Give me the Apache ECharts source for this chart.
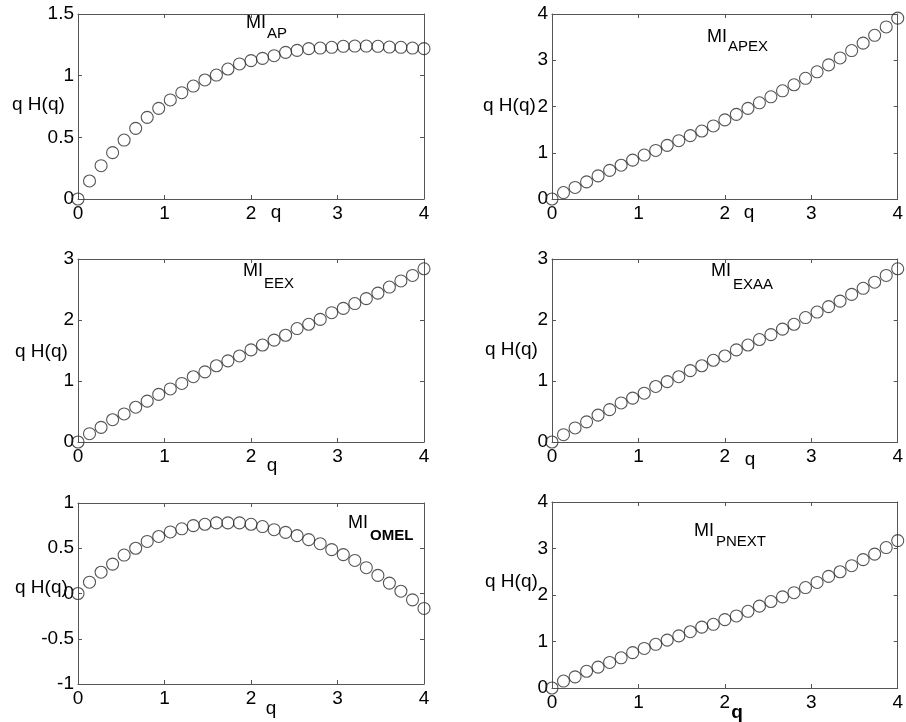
<!DOCTYPE html>
<html>
<head>
<meta charset="utf-8">
<script src="https://cdn.jsdelivr.net/npm/echarts@6/dist/echarts.min.js"></script>
<style>
  html, body { margin: 0; padding: 0; background: #fff; }
  #chart { width: 906px; height: 722px; }
</style>
</head>
<body>
<div id="chart"></div>
<script>
'use strict';

// q values (31 points from 0 to 4)
var qValues = [0, 0.133, 0.267, 0.4, 0.533, 0.667, 0.8, 0.933, 1.067, 1.2, 1.333, 1.467, 1.6, 1.733, 1.867,
    2, 2.133, 2.267, 2.4, 2.533, 2.667, 2.8, 2.933, 3.067, 3.2, 3.333, 3.467, 3.6, 3.733, 3.867, 4];

var miAP = [0, 0.146, 0.27, 0.376, 0.478, 0.573, 0.662, 0.735, 0.803, 0.862, 0.916, 0.965, 1.005, 1.054, 1.095,
    1.122, 1.14, 1.162, 1.189, 1.205, 1.219, 1.224, 1.23, 1.238, 1.24, 1.24, 1.238, 1.232, 1.23, 1.224, 1.219];
var miAPEX = [0, 0.14, 0.25, 0.37, 0.5, 0.62, 0.73, 0.84, 0.95, 1.05, 1.16, 1.26, 1.37, 1.47, 1.58,
    1.71, 1.83, 1.96, 2.08, 2.21, 2.34, 2.47, 2.61, 2.75, 2.9, 3.05, 3.21, 3.37, 3.54, 3.72, 3.91];
var miEEX = [0, 0.136, 0.24, 0.365, 0.46, 0.57, 0.67, 0.78, 0.87, 0.96, 1.07, 1.15, 1.25, 1.33, 1.41,
    1.51, 1.59, 1.67, 1.75, 1.86, 1.93, 2.01, 2.12, 2.19, 2.27, 2.35, 2.44, 2.54, 2.64, 2.73, 2.84];
var miEXAA = [0, 0.12, 0.23, 0.33, 0.44, 0.53, 0.64, 0.72, 0.8, 0.91, 0.99, 1.07, 1.17, 1.25, 1.34,
    1.41, 1.51, 1.59, 1.68, 1.76, 1.85, 1.93, 2.04, 2.13, 2.22, 2.31, 2.42, 2.52, 2.62, 2.73, 2.84];
var miOMEL = [0, 0.125, 0.235, 0.325, 0.425, 0.5, 0.575, 0.63, 0.68, 0.715, 0.75, 0.765, 0.78, 0.78, 0.78,
    0.765, 0.74, 0.705, 0.675, 0.64, 0.595, 0.55, 0.485, 0.43, 0.365, 0.285, 0.2, 0.115, 0.025, -0.07, -0.165];
var miPNEXT = [0, 0.15, 0.24, 0.36, 0.45, 0.55, 0.65, 0.76, 0.85, 0.94, 1.03, 1.12, 1.21, 1.31, 1.37,
    1.47, 1.55, 1.65, 1.76, 1.86, 1.96, 2.05, 2.16, 2.27, 2.4, 2.5, 2.63, 2.76, 2.88, 3.02, 3.17];

var seriesData = [miAP, miAPEX, miEEX, miEXAA, miOMEL, miPNEXT];
var subNames = ['AP', 'APEX', 'EEX', 'EXAA', 'OMEL', 'PNEXT'];
var yMins = [0, 0, 0, 0, -1, 0];
var yMaxs = [1.5, 4, 3, 3, 1, 4];
var yIntervals = [0.5, 1, 1, 1, 0.5, 1];
var xMin = 0, xMax = 4, xInterval = 1;
var xName = 'q', yName = 'q H(q)', titleMain = 'MI';

// layout (pixels)
var grids = [
    {left: 78, top: 14, width: 346, height: 185},
    {left: 552, top: 14, width: 346, height: 185},
    {left: 78, top: 259, width: 346, height: 183},
    {left: 552, top: 259, width: 346, height: 183},
    {left: 78, top: 503, width: 346, height: 181},
    {left: 552, top: 502, width: 346, height: 186}
];
var titlePos = [[246, 23, 267, 34], [707, 37, 728, 47], [243, 271, 264, 284],
    [711, 271, 733, 285], [348, 523, 370, 536], [694, 531, 716, 542]];
var yNamePos = [[12, 105], [483, 106], [15, 352], [485, 350], [15, 588], [485, 582]];
var xNamePos = [[276, 213], [749, 213], [272, 466], [750, 460], [271, 709], [737, 713]];
var subBold = [false, false, false, false, true, false];
var xNameBold = [false, false, false, false, false, true];

var font = 'Liberation Sans, Arial, sans-serif';
var axisColor = '#555';

var xAxes = [], yAxes = [], series = [], graphics = [];
for (var i = 0; i < 6; i++) {
    var tick = {show: true, inside: true, length: 4, lineStyle: {color: axisColor}};
    var line = {show: true, onZero: false, lineStyle: {color: axisColor, width: 1}};
    xAxes.push({
        gridIndex: i, type: 'value', min: xMin, max: xMax, interval: xInterval,
        position: 'bottom', axisLine: line, axisTick: tick, splitLine: {show: false},
        axisLabel: {color: '#000', fontSize: 19, fontFamily: font, margin: 5}
    });
    xAxes.push({
        gridIndex: i, type: 'value', min: xMin, max: xMax, interval: xInterval,
        position: 'top', axisLine: line, axisTick: tick, splitLine: {show: false},
        axisLabel: {show: false}
    });
    yAxes.push({
        gridIndex: i, type: 'value', min: yMins[i], max: yMaxs[i], interval: yIntervals[i],
        position: 'left', axisLine: line, axisTick: tick, splitLine: {show: false},
        axisLabel: {color: '#000', fontSize: 19, fontFamily: font, margin: 4}
    });
    yAxes.push({
        gridIndex: i, type: 'value', min: yMins[i], max: yMaxs[i], interval: yIntervals[i],
        position: 'right', axisLine: line, axisTick: tick, splitLine: {show: false},
        axisLabel: {show: false}
    });

    var pts = [];
    for (var k = 0; k < qValues.length; k++) {
        pts.push([qValues[k], seriesData[i][k]]);
    }
    series.push({
        type: 'scatter', xAxisIndex: 2 * i, yAxisIndex: 2 * i, data: pts,
        symbol: 'circle', symbolSize: 12, clip: false, silent: true,
        itemStyle: {color: 'rgba(0,0,0,0)', borderColor: '#2a2a2a', borderWidth: 1.1}
    });

    var tp = titlePos[i];
    graphics.push({type: 'text', x: tp[0], y: tp[1], style: {
        text: titleMain, font: '18px ' + font, fill: '#000', textVerticalAlign: 'middle'}});
    graphics.push({type: 'text', x: tp[2], y: tp[3], style: {
        text: subNames[i], font: (subBold[i] ? 'bold ' : '') + '15px ' + font, fill: '#000',
        textVerticalAlign: 'middle'}});
    graphics.push({type: 'text', x: yNamePos[i][0], y: yNamePos[i][1], style: {
        text: yName, font: '19px ' + font, fill: '#000', textVerticalAlign: 'middle'}});
    graphics.push({type: 'text', x: xNamePos[i][0], y: xNamePos[i][1], style: {
        text: xName, font: (xNameBold[i] ? 'bold ' : '') + '19px ' + font, fill: '#000',
        textAlign: 'center', textVerticalAlign: 'middle'}});
}

var chart = echarts.init(document.getElementById('chart'), null, {renderer: 'canvas'});
chart.setOption({
    animation: false,
    backgroundColor: '#fff',
    grid: grids,
    xAxis: xAxes,
    yAxis: yAxes,
    series: series,
    graphic: graphics
});
</script>
</body>
</html>
